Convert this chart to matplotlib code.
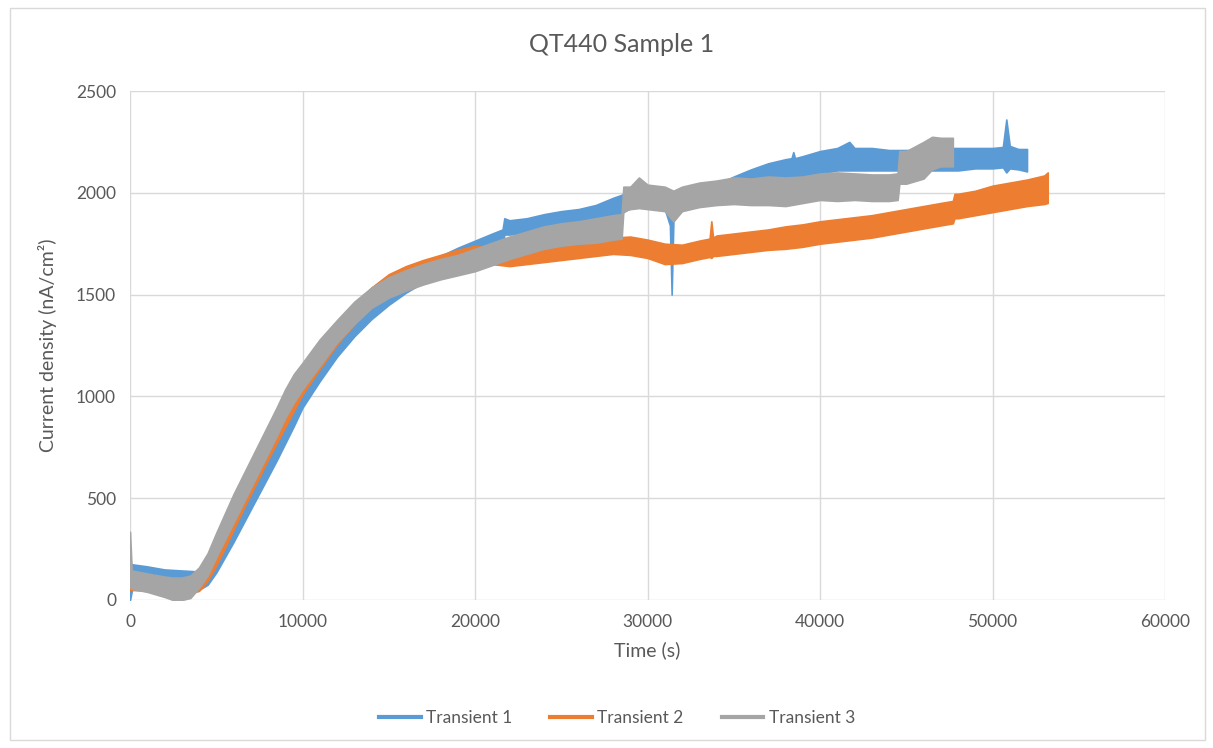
import matplotlib
matplotlib.use("Agg")
import matplotlib.pyplot as plt
from matplotlib.patches import Rectangle
from matplotlib.lines import Line2D

plt.rcParams['font.family'] = ['Lato', 'DejaVu Sans']

# Each transient is a noisy band: time (s), band centre and half-width (nA/cm²)
t1 = [0, 150, 1000, 2000, 3000, 4000, 4500, 5000, 5500, 6000, 6500, 7000, 7500, 8000,
      8500, 9000, 9500, 10000, 11000, 12000, 13000, 14000, 15000, 16000, 17000, 18000,
      19000, 20000, 21000, 21600, 21700, 22000, 23000, 24000, 25000, 26000, 27000, 28000,
      28500, 29000, 30000, 31000, 31300, 31400, 31500, 32000, 33000, 34000, 35000, 36000,
      37000, 38000, 38350, 38450, 38550, 39000, 40000, 41000, 41700, 42000, 43000, 44000,
      45000, 46000, 47000, 48000, 49000, 50000, 50600, 50800, 51000, 51500, 52000]
mid1 = [90, 120, 110, 100, 95, 95, 120, 185, 265, 345, 425, 505, 585, 665,
        745, 830, 915, 1000, 1130, 1245, 1345, 1425, 1495, 1555, 1605, 1645,
        1685, 1720, 1755, 1775, 1835, 1830, 1840, 1855, 1870, 1880, 1900, 1930,
        1945, 1970, 1975, 1965, 1900, 1750, 1920, 1965, 1980, 1995, 2030, 2065,
        2095, 2115, 2120, 2140, 2120, 2130, 2150, 2165, 2180, 2165, 2165, 2160,
        2160, 2160, 2165, 2165, 2170, 2170, 2175, 2230, 2175, 2165, 2160]
half1 = [90, 55, 55, 50, 50, 45, 45, 50, 55, 60, 60, 60, 60, 60,
         60, 60, 60, 55, 55, 50, 50, 45, 45, 45, 45, 45,
         45, 45, 45, 45, 40, 35, 35, 40, 40, 40, 40, 45,
         45, 45, 45, 45, 60, 250, 60, 45, 45, 45, 50, 50,
         50, 50, 50, 60, 50, 50, 55, 55, 70, 55, 55, 50,
         50, 50, 55, 55, 50, 50, 50, 130, 55, 50, 55]

t2 = [0, 1000, 2000, 3000, 4000, 4500, 5000, 5500, 6000, 6500, 7000, 7500, 8000,
      8500, 9000, 9500, 10000, 11000, 12000, 13000, 14000, 15000, 16000, 17000, 18000,
      19000, 20000, 21000, 22000, 23000, 24000, 25000, 26000, 27000, 28000, 29000, 30000,
      31000, 32000, 33000, 33600, 33700, 33800, 34000, 35000, 36000, 37000, 38000, 39000,
      40000, 41000, 42000, 43000, 44000, 45000, 46000, 47000, 47700, 47800, 48000, 49000,
      50000, 51000, 52000, 53000, 53200]
mid2 = [95, 85, 70, 60, 85, 140, 220, 310, 400, 490, 575, 660, 745,
        825, 905, 985, 1060, 1185, 1300, 1400, 1490, 1555, 1600, 1630, 1655,
        1680, 1700, 1690, 1680, 1690, 1700, 1710, 1720, 1730, 1740, 1740, 1725,
        1700, 1700, 1720, 1730, 1770, 1735, 1740, 1750, 1760, 1770, 1780, 1790,
        1805, 1815, 1825, 1835, 1850, 1865, 1880, 1895, 1905, 1935, 1935, 1950,
        1970, 1985, 2000, 2015, 2025]
half2 = [45, 40, 40, 40, 40, 45, 50, 55, 55, 55, 55, 55, 55,
         55, 55, 55, 50, 50, 45, 45, 45, 45, 40, 40, 40,
         40, 40, 40, 40, 40, 40, 40, 40, 40, 40, 45, 45,
         50, 45, 45, 45, 90, 45, 50, 50, 50, 50, 55, 55,
         55, 55, 55, 55, 55, 55, 55, 55, 55, 60, 60, 60,
         65, 65, 65, 70, 75]

t3 = [0, 100, 1000, 2000, 2500, 3000, 3500, 4000, 4500, 5000, 5500, 6000, 6500, 7000,
      7500, 8000, 8500, 9000, 9500, 10000, 11000, 12000, 13000, 14000, 15000, 16000,
      17000, 18000, 19000, 20000, 21000, 22000, 23000, 24000, 25000, 26000, 27000, 28000,
      28500, 28600, 29000, 29500, 30000, 31000, 31500, 32000, 33000, 34000, 35000, 36000,
      37000, 38000, 39000, 40000, 41000, 42000, 43000, 44000, 44500, 44600, 45000, 46000,
      46500, 47000, 47700]
mid3 = [200, 100, 85, 65, 55, 55, 65, 110, 175, 270, 360, 450, 535, 620,
        705, 790, 875, 965, 1040, 1100, 1215, 1320, 1410, 1485, 1535, 1570,
        1600, 1625, 1645, 1670, 1700, 1730, 1755, 1780, 1795, 1805, 1815, 1830,
        1835, 1970, 1975, 2000, 1980, 1970, 1935, 1970, 1990, 2000, 2010, 2005,
        2010, 2005, 2015, 2030, 2030, 2030, 2025, 2025, 2030, 2125, 2125, 2160,
        2195, 2200, 2200]
half3 = [135, 45, 45, 50, 55, 55, 55, 50, 55, 60, 65, 70, 70, 70,
         70, 70, 70, 70, 70, 65, 65, 55, 55, 50, 50, 50,
         50, 50, 50, 55, 55, 55, 55, 55, 55, 55, 60, 60,
         60, 60, 55, 75, 60, 60, 75, 60, 60, 60, 65, 65,
         70, 70, 65, 65, 70, 65, 65, 65, 65, 80, 80, 90,
         80, 70, 70]

series = [
    ("Transient 1", t1, mid1, half1, "#5B9BD5"),
    ("Transient 2", t2, mid2, half2, "#ED7D31"),
    ("Transient 3", t3, mid3, half3, "#A5A5A5"),
]

fig = plt.figure(figsize=(12.13, 7.48), dpi=100)
ax = fig.add_axes([130 / 1213, 1 - 600 / 748, 1035 / 1213, 509 / 748])

for name, t, mid, half, color in series:
    lo = [m - h for m, h in zip(mid, half)]
    hi = [m + h for m, h in zip(mid, half)]
    ax.fill_between(t, lo, hi, color=color, linewidth=1.2, edgecolor=color, zorder=3)

ax.set_xlim(0, 60000)
ax.set_ylim(0, 2500)
ax.set_xticks(range(0, 60001, 10000))
ax.set_yticks(range(0, 2501, 500))
ax.grid(True, color="#D9D9D9", linewidth=1)
ax.set_axisbelow(True)
for side in ax.spines:
    ax.spines[side].set_visible(False)
ax.tick_params(length=0, labelsize=12.5, colors="#595959", pad=10)

ax.set_xlabel("Time (s)", fontsize=14, color="#595959", labelpad=8)
ax.set_ylabel("Current density (nA/cm²)", fontsize=14, color="#595959", labelpad=14)

fig.text(622 / 1213, 1 - 45 / 748, "QT440 Sample 1", fontsize=18, color="#595959",
         ha="center", va="center")

handles = [Line2D([], [], color=c, linewidth=3) for _, _, _, _, c in series]
fig.legend(handles, [s[0] for s in series], loc="center", ncol=3, frameon=False,
           bbox_to_anchor=(617 / 1213, 1 - 718 / 748), fontsize=12.5,
           handlelength=2.4, handletextpad=0.3, columnspacing=2.2,
           labelcolor="#595959")

# light frame round the whole chart area
fig.patches.append(Rectangle((10 / 1213, 8 / 748), 1195 / 1213, 732 / 748,
                             transform=fig.transFigure, fill=False,
                             edgecolor="#D9D9D9", linewidth=1))

fig.savefig("out.png", dpi=100, facecolor="white")
